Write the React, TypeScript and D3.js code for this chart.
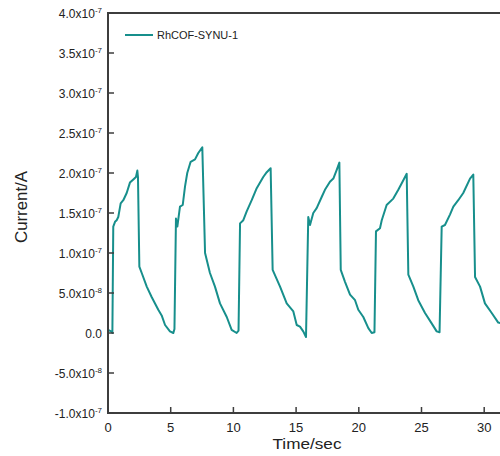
import React from "react";
import * as d3 from "d3";

// time (sec)
const timeSec: number[] = [
  0.0, 0.25, 0.35, 0.42, 0.56, 0.69, 0.82, 1.01, 1.22, 1.49, 1.75, 2.02, 2.23, 2.34, 2.39,
  2.5, 2.69, 3.09, 3.48, 4.01, 4.28, 4.55, 4.94, 5.21, 5.3,
  5.42, 5.53, 5.74, 5.96, 6.14, 6.32, 6.59, 6.94, 7.2, 7.52,
  7.74, 8.13, 8.53, 8.93, 9.47, 9.86, 10.26, 10.41,
  10.53, 10.79, 11.06, 11.46, 11.86, 12.38, 12.66, 12.97,
  13.13, 13.72, 14.25, 14.78, 15.05, 15.31, 15.57, 15.79,
  15.97, 16.11, 16.37, 16.64, 17.04, 17.3, 17.7, 17.97, 18.24, 18.45,
  18.56, 18.9, 19.3, 19.7, 19.96, 20.36, 20.76, 21.03, 21.25,
  21.37, 21.69, 21.83, 22.22, 22.75, 23.15, 23.55, 23.82,
  23.95, 24.35, 24.74, 25.28, 25.81, 26.21, 26.44,
  26.61, 26.87, 27.27, 27.54, 27.93, 28.33, 28.87, 29.13,
  29.27, 29.67, 30.06, 30.6, 31.12, 31.42,
];
// current (units of 1e-7 A)
const currentE7: number[] = [
  0.04, 0.02, 0.0, 1.33, 1.39, 1.41, 1.45, 1.62, 1.66, 1.75, 1.88, 1.92, 1.95, 2.03, 1.95,
  0.83, 0.75, 0.58, 0.45, 0.29, 0.22, 0.1, 0.02, 0.0, 0.05,
  1.43, 1.33, 1.58, 1.6, 1.83, 2.0, 2.14, 2.17, 2.25, 2.32,
  1.0, 0.75, 0.58, 0.37, 0.2, 0.04, 0.0, 0.03,
  1.37, 1.41, 1.52, 1.66, 1.81, 1.95, 2.01, 2.06,
  0.79, 0.58, 0.37, 0.27, 0.1, 0.08, 0.02, -0.05,
  1.45, 1.35, 1.5, 1.56, 1.7, 1.79, 1.89, 1.93, 2.04, 2.13,
  0.79, 0.64, 0.48, 0.41, 0.29, 0.2, 0.06, 0.0, 0.01,
  1.27, 1.31, 1.41, 1.6, 1.68, 1.79, 1.91, 1.99,
  0.73, 0.58, 0.41, 0.25, 0.12, 0.02, 0.01,
  1.33, 1.35, 1.48, 1.58, 1.66, 1.75, 1.93, 1.98,
  0.7, 0.58, 0.37, 0.25, 0.13, 0.12,
];

const yTickMantissa: string[] = ["-1.0", "-5.0", "0.0", "5.0", "1.0", "1.5", "2.0", "2.5", "3.0", "3.5", "4.0"];
const yTickExp: string[] = ["-7", "-8", "", "-8", "-7", "-7", "-7", "-7", "-7", "-7", "-7"];
const yTickValues: number[] = [-1e-7, -5e-8, 0, 5e-8, 1e-7, 1.5e-7, 2e-7, 2.5e-7, 3e-7, 3.5e-7, 4e-7];
const xTickValues: number[] = [0, 5, 10, 15, 20, 25, 30];
const seriesName = "RhCOF-SYNU-1";

const LINE = "#178f8c";
const AXIS = "#3d3d3d";
const FONT = "'Liberation Sans', Arial, sans-serif";

export default function App() {
  const left = 108, right = 500, top = 13, bottom = 413;
  const x = d3.scaleLinear().domain([0, (right - left) / 12.54]).range([left, right]);
  const y = d3.scaleLinear().domain([-1e-7, 4e-7]).range([bottom, top]);
  const pts = timeSec.map((t, i) => [t, currentE7[i] * 1e-7] as [number, number]);
  const line = d3.line<[number, number]>().x((d) => x(d[0])).y((d) => y(d[1]));

  return (
    <svg width={500} height={456} style={{ position: "absolute", left: 0, top: 0, background: "#fff" }} fontFamily={FONT}>
      <defs>
        <clipPath id="plot">
          <rect x={left} y={top} width={right - left} height={bottom - top} />
        </clipPath>
      </defs>
      <rect x={0} y={0} width={500} height={456} fill="#fff" />
      <path d={line(pts) || ""} fill="none" stroke={LINE} strokeWidth={2} strokeLinejoin="round" clipPath="url(#plot)" />
      {/* frame */}
      <line x1={left} x2={right} y1={top} y2={top} stroke={AXIS} strokeWidth={2} />
      <line x1={left} x2={left} y1={top - 1} y2={bottom + 1} stroke={AXIS} strokeWidth={2} />
      <line x1={left - 1} x2={right} y1={bottom} y2={bottom} stroke={AXIS} strokeWidth={2} />
      {yTickValues.map((v, i) => (
        <g key={"y" + i}>
          <line x1={left} x2={left + 6} y1={y(v)} y2={y(v)} stroke={AXIS} strokeWidth={1.5} />
          <text x={left - 6} y={y(v) + 4.5} textAnchor="end" fontSize={12} fill="#222">
            {yTickExp[i] ? (
              <>
                <tspan>{yTickMantissa[i]}x10</tspan>
                <tspan dy={-5} fontSize={8}>{yTickExp[i]}</tspan>
              </>
            ) : (
              <tspan>{yTickMantissa[i]}</tspan>
            )}
          </text>
        </g>
      ))}
      {xTickValues.map((v, i) => (
        <g key={"x" + i}>
          <line x1={x(v)} x2={x(v)} y1={bottom} y2={bottom - 6} stroke={AXIS} strokeWidth={1.5} />
          <text x={x(v)} y={432} textAnchor="middle" fontSize={13} fill="#222">{v}</text>
        </g>
      ))}
      <text x={307} y={449} textAnchor="middle" fontSize={15} textLength={69} lengthAdjust="spacingAndGlyphs" fill="#222">Time/sec</text>
      <text transform="translate(26.5,207) rotate(-90)" textAnchor="middle" fontSize={16} textLength={72} lengthAdjust="spacingAndGlyphs" fill="#222">Current/A</text>
      <line x1={125} x2={153} y1={35} y2={35} stroke={LINE} strokeWidth={2} />
      <text x={157} y={39} fontSize={11} textLength={81} lengthAdjust="spacingAndGlyphs" fill="#222">{seriesName}</text>
    </svg>
  );
}
